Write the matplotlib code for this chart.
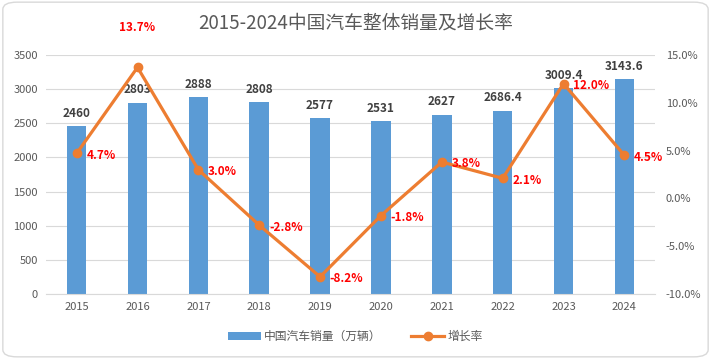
import matplotlib.pyplot as plt
from matplotlib.patches import FancyBboxPatch
from matplotlib.ticker import FuncFormatter

plt.rcParams['font.family'] = ['Noto Sans CJK SC', 'DejaVu Sans']

# datos
anios = ['2015', '2016', '2017', '2018', '2019', '2020', '2021', '2022', '2023', '2024']
ventas = [2460, 2803, 2888, 2808, 2577, 2531, 2627, 2686.4, 3009.4, 3143.6]
etiquetas_ventas = ['2460', '2803', '2888', '2808', '2577', '2531', '2627', '2686.4', '3009.4', '3143.6']
crecimiento = [4.7, 13.7, 3.0, -2.8, -8.2, -1.8, 3.8, 2.1, 12.0, 4.5]

azul = '#5B9BD5'
naranja = '#ED7D31'
gris = '#595959'

fig = plt.figure(figsize=(7.11, 3.59), dpi=100)
marco = FancyBboxPatch((0.004, 0.006), 0.992, 0.988, boxstyle='round,pad=0,rounding_size=0.02',
                       transform=fig.transFigure, facecolor='none', edgecolor='#D9D9D9',
                       linewidth=1, zorder=-1)
fig.patches.append(marco)

ax = fig.add_axes([0.065, 0.181, 0.856, 0.666])
ax.set_facecolor('none')
x = list(range(len(anios)))
barras = ax.bar(x, ventas, width=0.32, color=azul, label='中国汽车销量（万辆）', zorder=2)
ax.set_ylim(0, 3500)
ax.set_xlim(-0.5, len(anios) - 0.5)
ax.set_yticks(range(0, 3501, 500))
ax.set_xticks(x)
ax.set_xticklabels(anios)
ax.grid(axis='y', color='#D9D9D9', linewidth=0.8, zorder=0)
for s in ['top', 'right', 'left']:
    ax.spines[s].set_visible(False)
ax.spines['bottom'].set_color('#D9D9D9')
ax.tick_params(length=0, labelsize=8, colors=gris, pad=6)

for xi, v, t in zip(x, ventas, etiquetas_ventas):
    ax.text(xi, v + 90, t, ha='center', va='bottom', fontsize=8.5, fontweight='bold', color='#404040')

ax2 = ax.twinx()
ax2.plot(x, crecimiento, color=naranja, linewidth=2.3, marker='o', markersize=6, label='增长率', zorder=3)
ax2.set_ylim(-10, 15)
ax2.set_yticks(range(-10, 16, 5))
ax2.yaxis.set_major_formatter(FuncFormatter(lambda v, p: f'{v:.1f}%'))
for s in ['top', 'right', 'left', 'bottom']:
    ax2.spines[s].set_visible(False)
ax2.tick_params(length=0, labelsize=8, colors=gris, pad=8)

# la etiqueta del máximo va encima, las demás a la derecha del punto
for xi, c in zip(x, crecimiento):
    if c == max(crecimiento):
        ax2.text(xi, c + 4.2, f'{c:.1f}%', ha='center', va='center', fontsize=8.5,
                 fontweight='bold', color='#FF0000', clip_on=False)
    else:
        ax2.text(xi + 0.16, c - 0.2, f'{c:.1f}%', ha='left', va='center', fontsize=8.5,
                 fontweight='bold', color='#FF0000')

fig.text(0.5, 0.935, '2015-2024中国汽车整体销量及增长率', ha='center', va='center',
         fontsize=13.5, color=gris)

h1, l1 = ax.get_legend_handles_labels()
h2, l2 = ax2.get_legend_handles_labels()
fig.legend(h1 + h2, l1 + l2, loc='center', bbox_to_anchor=(0.5, 0.063), ncol=2, frameon=False,
           fontsize=8.5, labelcolor=gris, handlelength=2.8, handletextpad=0.3, columnspacing=2.5)

fig.savefig('out.png', dpi=100)
